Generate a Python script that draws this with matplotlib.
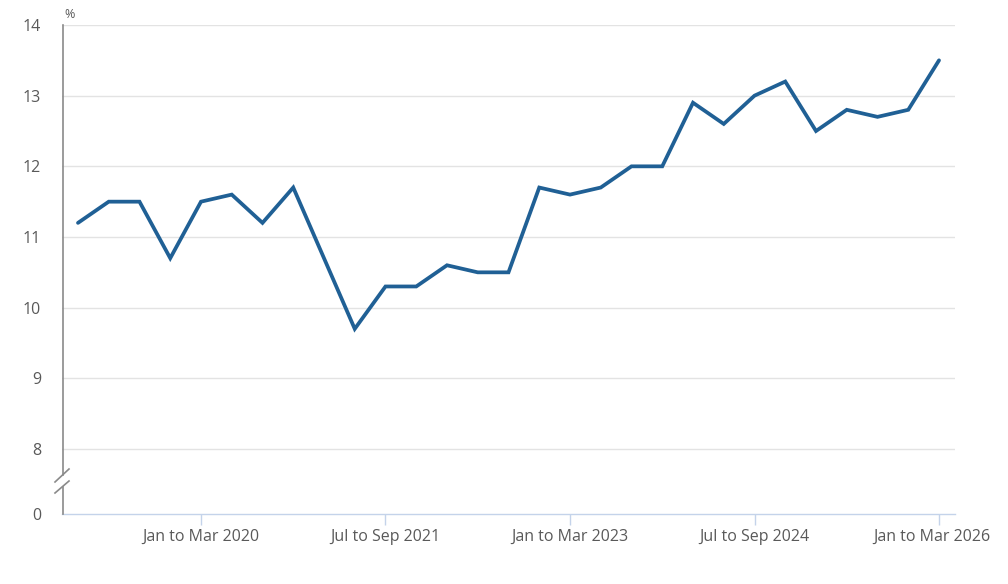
import matplotlib
matplotlib.use("Agg")
import matplotlib.pyplot as plt
import matplotlib.transforms as mtransforms
from matplotlib.lines import Line2D

plt.rcParams['font.family'] = ['Open Sans', 'DejaVu Sans']

quarters = ["Jan to Mar 2019", "Apr to Jun 2019", "Jul to Sep 2019", "Oct to Dec 2019",
            "Jan to Mar 2020", "Apr to Jun 2020", "Jul to Sep 2020", "Oct to Dec 2020",
            "Jan to Mar 2021", "Apr to Jun 2021", "Jul to Sep 2021", "Oct to Dec 2021",
            "Jan to Mar 2022", "Apr to Jun 2022", "Jul to Sep 2022", "Oct to Dec 2022",
            "Jan to Mar 2023", "Apr to Jun 2023", "Jul to Sep 2023", "Oct to Dec 2023",
            "Jan to Mar 2024", "Apr to Jun 2024", "Jul to Sep 2024", "Oct to Dec 2024",
            "Jan to Mar 2025", "Apr to Jun 2025", "Jul to Sep 2025", "Oct to Dec 2025",
            "Jan to Mar 2026"]
values = [11.2, 11.5, 11.5, 10.7, 11.5, 11.6, 11.2, 11.7,
          10.7, 9.7, 10.3, 10.3, 10.6, 10.5, 10.5, 11.7,
          11.6, 11.7, 12.0, 12.0, 12.9, 12.6, 13.0, 13.2,
          12.5, 12.8, 12.7, 12.8, 13.5]
xtick_labels = ["Jan to Mar 2020", "Jul to Sep 2021", "Jan to Mar 2023",
                "Jul to Sep 2024", "Jan to Mar 2026"]
ytick_values = [0, 8, 9, 10, 11, 12, 13, 14]

W, H = 1008, 584
fig = plt.figure(figsize=(W/100, H/100), dpi=100)
ax = fig.add_axes([62/W, 1-514/H, (955-62)/W, (514-25)/H])

# broken axis: values >= 8 drawn directly, zero placed just below
zero_pos = 8 - 65/70.67
def ymap(v):
    return v if v >= 8 else zero_pos

xs = list(range(len(quarters)))
ax.plot(xs, values, color='#206095', lw=2.7, solid_joinstyle='miter', solid_capstyle='round', zorder=3)

ax.set_xlim(-0.52, len(quarters) - 1 + 0.52)
ax.set_ylim(zero_pos, 14)

ax.set_yticks([ymap(v) for v in ytick_values])
ax.set_yticklabels([str(v) for v in ytick_values])
for v in ytick_values:
    if v >= 8:
        ax.axhline(v, color='#e3e3e3', lw=1, zorder=1)

xt = [quarters.index(l) for l in xtick_labels]
ax.set_xticks(xt)
ax.set_xticklabels(xtick_labels)

for s in ['top', 'right', 'left']:
    ax.spines[s].set_visible(False)
ax.spines['bottom'].set_color('#c4d3ea')
ax.spines['bottom'].set_linewidth(1)

ax.tick_params(axis='x', length=8, width=1, color='#c4d3ea', labelsize=11.5, labelcolor='#595959', pad=3)
ax.tick_params(axis='y', length=0, labelsize=11.5, labelcolor='#595959', pad=15)

# last x label is pulled left to stay inside the frame
last = ax.get_xticklabels()[-1]
last.set_transform(last.get_transform() + mtransforms.ScaledTranslation(-7/100, 0, fig.dpi_scale_trans))

# left spine with break
def py(v_disp):
    return 1 - v_disp / H
fx = 62.5 / W
fig.add_artist(Line2D([fx, fx], [py(25), py(475)], color='#8a8a8a', lw=1.2))
fig.add_artist(Line2D([fx, fx], [py(487), py(514)], color='#8a8a8a', lw=1.2))
fig.add_artist(Line2D([55/W, 69/W], [py(482), py(469)], color='#8a8a8a', lw=1.2))
fig.add_artist(Line2D([55/W, 69/W], [py(493), py(481)], color='#8a8a8a', lw=1.2))

fig.text(64/W, 1-15/H, '%', fontsize=9, color='#595959', va='center', ha='left')

fig.savefig('out.png', dpi=100)
